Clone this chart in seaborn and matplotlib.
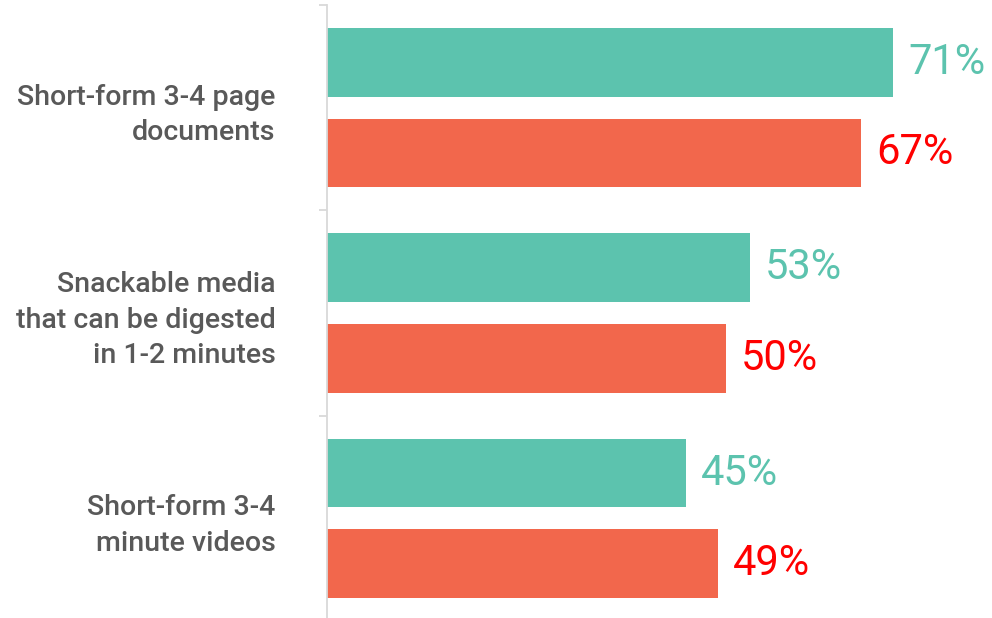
import matplotlib
matplotlib.use("Agg")
import matplotlib.pyplot as plt
import seaborn as sns
import pandas as pd
from matplotlib.ticker import FixedLocator

categories = [
    "Short-form 3-4 page\ndocuments",
    "Snackable media\nthat can be digested\nin 1-2 minutes",
    "Short-form 3-4\nminute videos",
]
series_names = ["Series 1", "Series 2"]
series_1 = [71, 53, 45]
series_2 = [67, 50, 49]

bar_colors = ["#5CC3AE", "#F2674C"]
label_colors = ["#5CC3AE", "#FF0000"]

rows = []
for c, a, b in zip(categories, series_1, series_2):
    rows.append({"category": c, "series": series_names[0], "value": a})
    rows.append({"category": c, "series": series_names[1], "value": b})
df = pd.DataFrame(rows)

sns.set_theme(style="white")
plt.rcParams["font.family"] = ["Roboto", "DejaVu Sans"]

fig = plt.figure(figsize=(9.92, 6.18), dpi=100)
ax = fig.add_axes([327 / 992, -3 / 618, 665 / 992, 616 / 618])

sns.barplot(data=df, y="category", x="value", hue="series", order=categories,
            hue_order=series_names, palette=bar_colors, orient="h",
            width=0.88, gap=0.24, linewidth=0, saturation=1,
            legend=False, ax=ax)

ax.set_xlim(0, 83.4)
ax.set_ylim(2.5, -0.5)

for cont, col in zip(ax.containers, label_colors):
    ax.bar_label(cont, labels=[f"{v:.0f}%" for v in cont.datavalues],
                 padding=11, color=col, fontsize=30)

for s in ["top", "right", "bottom"]:
    ax.spines[s].set_visible(False)
ax.spines["left"].set_color("#D9D9D9")
ax.spines["left"].set_linewidth(1.3)

ax.xaxis.set_visible(False)
ax.set_xlabel("")
ax.set_ylabel("")

ax.yaxis.set_major_locator(FixedLocator([-0.5, 0.5, 1.5, 2.5]))
ax.yaxis.set_major_formatter(plt.NullFormatter())
ax.yaxis.set_minor_locator(FixedLocator([0, 1, 2]))
ax.set_yticklabels(categories, minor=True)
ax.tick_params(axis="y", which="major", left=True, length=6, width=1.3,
               color="#D9D9D9")
ax.tick_params(axis="y", which="minor", left=True, length=0, pad=37)
for t in ax.get_yticklabels(minor=True):
    t.set_fontsize(20.5)
    t.set_color("#595959")
    t.set_fontweight("medium")
    t.set_linespacing(1.4)
    t.set_ha("right")

fig.savefig("out.png", dpi=100)
